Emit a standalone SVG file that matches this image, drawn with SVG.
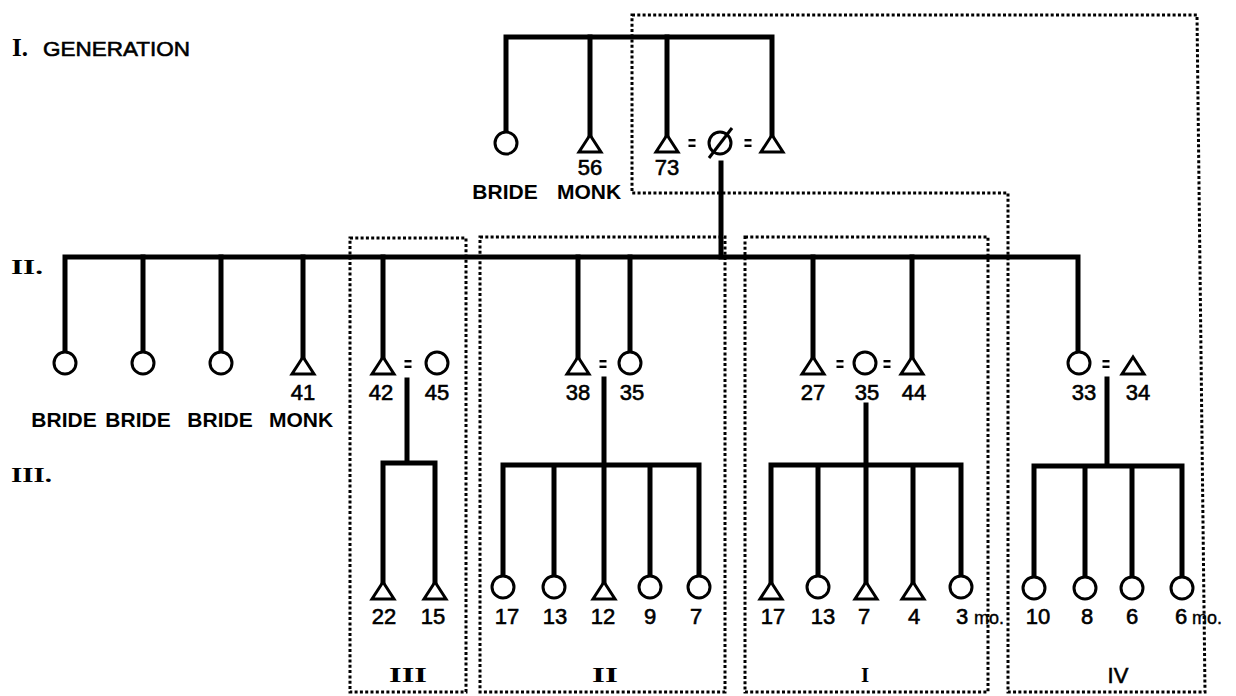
<svg xmlns="http://www.w3.org/2000/svg" width="1236" height="696" viewBox="0 0 1236 696">
<style>
.ln{fill:none;stroke:#000;stroke-width:5;stroke-linecap:square;stroke-linejoin:miter}
.dot{fill:none;stroke:#000;stroke-width:3;stroke-dasharray:3 2.3}
.f{fill:#fff;stroke:#000;stroke-width:3}
.eq{stroke:#000;stroke-width:2.4}
.n{font-family:"Liberation Sans",Arial,sans-serif;font-size:22px;fill:#000;stroke:#000;stroke-width:0.6;text-anchor:middle}
.w{font-family:"Liberation Sans",Arial,sans-serif;font-size:21px;font-weight:bold;fill:#000;text-anchor:middle}
.mo{font-family:"Liberation Sans",Arial,sans-serif;font-size:18px;fill:#000;stroke:#000;stroke-width:0.4}
.r{font-family:"Liberation Serif","Times New Roman",serif;font-weight:bold;fill:#000}
</style>
<defs>
<path id="tri" class="f" d="M0,0 L-11,17 L11,17 Z"/>
<circle id="cir" class="f" r="11"/>
<g id="eqs"><line class="eq" x1="-3.5" y1="-2.8" x2="3.5" y2="-2.8"/><line class="eq" x1="-3.5" y1="2.8" x2="3.5" y2="2.8"/></g>
</defs>
<rect width="1236" height="696" fill="#fff"/>

<g id="household-boxes">
<path class="dot" d="M632,15 H1197 L1205,692 H1008 V193 H632 Z"/>
<rect class="dot" x="350" y="238" width="116" height="454"/>
<rect class="dot" x="480" y="237" width="245" height="455"/>
<rect class="dot" x="745" y="237" width="243" height="455"/>
</g>

<g id="connectors">
<path class="ln" d="M506,132 V37 H772 V135"/>
<path class="ln" d="M590,37 V135 M667,37 V135"/>
<path class="ln" d="M721,163 V257"/>
<path class="ln" d="M65,352 V257 H1078 V352"/>
<path class="ln" d="M143,257 V352 M221,257 V352 M303,257 V357 M383,257 V357 M578,257 V357 M630,257 V352 M813,257 V357 M912,257 V357"/>
<path class="ln" d="M407,380 V463 M383,582 V463 H435 V582"/>
<path class="ln" d="M604,379 V465 M503,576 V465 H699 V576 M554,465 V576 M604,465 V582 M650,465 V576"/>
<path class="ln" d="M866,405 V465 M771,582 V465 H961 V576 M818,465 V576 M866,465 V582 M913,465 V582"/>
<path class="ln" d="M1107,379 V466 M1034,577 V466 H1182 V577 M1085,466 V577 M1132,466 V577"/>
</g>

<g id="labels">
<text class="r" x="12" y="56" font-size="25">I.</text>
<text class="w" x="43" y="56" font-size="23" style="text-anchor:start;font-weight:normal;stroke:#000;stroke-width:0.6" textLength="147" lengthAdjust="spacingAndGlyphs">GENERATION</text>
<text class="r" x="11" y="274" font-size="22" textLength="32" lengthAdjust="spacingAndGlyphs">II.</text>
<text class="r" x="11" y="482" font-size="22" textLength="41" lengthAdjust="spacingAndGlyphs">III.</text>
<text class="r" x="408" y="682" font-size="21" text-anchor="middle" textLength="38" lengthAdjust="spacingAndGlyphs">III</text>
<text class="r" x="605" y="682" font-size="21" text-anchor="middle" textLength="26" lengthAdjust="spacingAndGlyphs">II</text>
<text class="r" x="865" y="682" font-size="21" text-anchor="middle">I</text>
<text class="n" x="1118" y="683">IV</text>
</g>

<g id="g1-bride"><use href="#cir" x="506" y="143"/><text class="w" x="505" y="199">BRIDE</text></g>
<g id="g1-monk"><use href="#tri" x="590" y="135"/><text class="n" x="590" y="175">56</text><text class="w" x="589" y="199">MONK</text></g>
<g id="g1-husband1"><use href="#tri" x="667" y="135"/><text class="n" x="667" y="175">73</text></g>
<g id="g1-eq1"><use href="#eqs" x="692" y="143"/></g>
<g id="g1-wife"><circle class="f" cx="720" cy="143" r="11"/><line x1="709" y1="158" x2="732" y2="128" stroke="#000" stroke-width="3"/></g>
<g id="g1-eq2"><use href="#eqs" x="748" y="143"/></g>
<g id="g1-husband2"><use href="#tri" x="772" y="135"/></g>

<g id="g2-bride1"><use href="#cir" x="65" y="363"/><text class="w" x="64" y="427">BRIDE</text></g>
<g id="g2-bride2"><use href="#cir" x="143" y="363"/><text class="w" x="138" y="427">BRIDE</text></g>
<g id="g2-bride3"><use href="#cir" x="221" y="363"/><text class="w" x="220" y="427">BRIDE</text></g>
<g id="g2-monk"><use href="#tri" x="303" y="357"/><text class="n" x="303" y="400">41</text><text class="w" x="301" y="427">MONK</text></g>

<g id="g2-42"><use href="#tri" x="383" y="357"/><text class="n" x="381" y="400">42</text></g>
<g id="g2-eq42"><use href="#eqs" x="408" y="364"/></g>
<g id="g2-45"><use href="#cir" x="437" y="363"/><text class="n" x="437" y="400">45</text></g>

<g id="g2-38"><use href="#tri" x="578" y="357"/><text class="n" x="578" y="400">38</text></g>
<g id="g2-eq38"><use href="#eqs" x="603" y="364"/></g>
<g id="g2-35a"><use href="#cir" x="630" y="363"/><text class="n" x="632" y="400">35</text></g>

<g id="g2-27"><use href="#tri" x="813" y="357"/><text class="n" x="813" y="400">27</text></g>
<g id="g2-eq27"><use href="#eqs" x="840" y="364"/></g>
<g id="g2-35b"><use href="#cir" x="865" y="363"/><text class="n" x="867" y="400">35</text></g>
<g id="g2-eq44"><use href="#eqs" x="887" y="364"/></g>
<g id="g2-44"><use href="#tri" x="912" y="357"/><text class="n" x="914" y="400">44</text></g>

<g id="g2-33"><use href="#cir" x="1079" y="363"/><text class="n" x="1084" y="400">33</text></g>
<g id="g2-eq33"><use href="#eqs" x="1106" y="364"/></g>
<g id="g2-34"><use href="#tri" x="1133" y="357"/><text class="n" x="1138" y="400">34</text></g>

<g id="g3-22"><use href="#tri" x="383" y="582"/><text class="n" x="384" y="624">22</text></g>
<g id="g3-15"><use href="#tri" x="435" y="582"/><text class="n" x="433" y="624">15</text></g>

<g id="g3-17a"><use href="#cir" x="503" y="587"/><text class="n" x="507" y="624">17</text></g>
<g id="g3-13a"><use href="#cir" x="554" y="587"/><text class="n" x="555" y="624">13</text></g>
<g id="g3-12"><use href="#tri" x="604" y="582"/><text class="n" x="603" y="624">12</text></g>
<g id="g3-9"><use href="#cir" x="650" y="587"/><text class="n" x="650" y="624">9</text></g>
<g id="g3-7a"><use href="#cir" x="699" y="587"/><text class="n" x="696" y="624">7</text></g>

<g id="g3-17b"><use href="#tri" x="771" y="582"/><text class="n" x="773" y="624">17</text></g>
<g id="g3-13b"><use href="#cir" x="818" y="587"/><text class="n" x="823" y="624">13</text></g>
<g id="g3-7b"><use href="#tri" x="866" y="582"/><text class="n" x="864" y="624">7</text></g>
<g id="g3-4"><use href="#tri" x="913" y="582"/><text class="n" x="914" y="624">4</text></g>
<g id="g3-3mo"><use href="#cir" x="961" y="587"/><text class="n" x="962" y="624">3<tspan class="mo" x="974" style="text-anchor:start">mo.</tspan></text></g>

<g id="g3-10"><use href="#cir" x="1034" y="588"/><text class="n" x="1038" y="624">10</text></g>
<g id="g3-8"><use href="#cir" x="1085" y="588"/><text class="n" x="1087" y="624">8</text></g>
<g id="g3-6"><use href="#cir" x="1132" y="588"/><text class="n" x="1132" y="624">6</text></g>
<g id="g3-6mo"><use href="#cir" x="1182" y="588"/><text class="n" x="1181" y="624">6<tspan class="mo" x="1192" style="text-anchor:start">mo.</tspan></text></g>
</svg>
